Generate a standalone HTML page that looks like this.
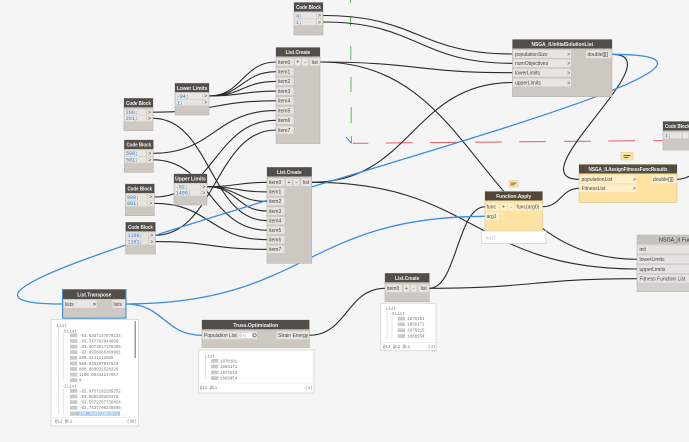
<!DOCTYPE html>
<html><head><meta charset="utf-8"><style>
html,body{margin:0;padding:0;background:#f5f5f5;}
svg{display:block;}
text{font-family:"Liberation Sans",sans-serif;}
.h{font-size:5.6px;fill:#f4f4f4;font-weight:bold;text-anchor:middle;}
.p{font-size:5px;fill:#444;}
.pc{font-size:5px;fill:#444;text-anchor:middle;}
.c{font-size:5px;fill:#2f7fd6;font-family:"Liberation Mono",monospace;}
.m{font-size:4.1px;fill:#777;font-family:"Liberation Mono",monospace;}
.w{fill:none;stroke:#2a2a2a;stroke-width:1.1;}
.b{fill:none;stroke:#3b8de0;stroke-width:1.3;}
.hd{fill:#524f4b;}
.bd{fill:#cdc9c2;stroke:#b6b2ac;stroke-width:0.6;}
.r{fill:#e8e5e1;}
.y{fill:#fde2a1;stroke:#dcc38c;stroke-width:0.6;}
.yr{fill:#fff0cc;}
.pv{fill:#fff;stroke:#d6d6d6;stroke-width:0.8;}
.ib{fill:#c9c9c9;}
</style></head><body>
<svg width="689" height="442" viewBox="0 0 689 442" xmlns="http://www.w3.org/2000/svg">
<rect x="0" y="0" width="689" height="442" fill="#f5f5f5"/>

<!-- axes -->
<g stroke="#5cb85c" stroke-width="1">
<line x1="350.5" y1="0" x2="350.5" y2="2.7"/>
<line x1="350.6" y1="16" x2="350.6" y2="26"/>
<line x1="350.8" y1="46" x2="350.8" y2="60"/>
<line x1="351" y1="77" x2="351" y2="92"/>
<line x1="351.2" y1="107" x2="351.2" y2="123"/>
<line x1="351.4" y1="136" x2="351.4" y2="143.3"/>
</g>
<g stroke="#ec5b5b" stroke-width="1">
<line x1="352.7" y1="143.3" x2="368.3" y2="143.2"/>
<line x1="386" y1="143" x2="412.7" y2="142.8"/>
<line x1="430" y1="142.6" x2="456.7" y2="142.4"/>
<line x1="475" y1="142.2" x2="501.7" y2="142"/>
<line x1="519.3" y1="141.8" x2="546" y2="141.6"/>
<line x1="564" y1="141.4" x2="590.7" y2="141.2"/>
<line x1="608.3" y1="141" x2="635" y2="140.8"/>
<line x1="653.3" y1="140.7" x2="663" y2="140.6"/>
</g>
<line x1="346" y1="137" x2="351.5" y2="143.3" stroke="#3a6fd8" stroke-width="0.8"/>

<!-- black wires -->
<path class="w" d="M323 15.5 C418 15.5 418 54 512.7 54"/>
<path class="w" d="M323 22 C418 22 418 63.3 512.7 63.3"/>
<path class="w" d="M320 62 C416 62 416 72.7 512.7 72.7"/>
<path class="w" d="M320 62 C480 62 477 259.3 637.3 259.3"/>
<path class="w" d="M311.7 182.3 C412 182.3 412 82.5 512.7 82.5"/>
<path class="w" d="M311.7 182.3 C475 182.3 474 269 637.3 269"/>
<path class="w" d="M611.7 54.3 C677 54.3 514 179.3 579.3 179.3"/>
<path class="w" d="M542.7 206.7 C561 206.7 561 188.3 579.3 188.3"/>
<path class="w" d="M429.3 288.3 C457 288.3 457 206.7 485.3 206.7"/>
<path class="w" d="M429.3 288.3 C533 288.3 533 278.7 637.3 278.7"/>
<path class="w" d="M309.3 335.3 C347 335.3 347 288.3 385 288.3"/>
<path class="w" d="M677 179.3 C690 179.3 695 170 720 165"/>

<path class="w" d="M209 96 C242 96 243 62 276 62"/>
<path class="w" d="M209 96 C242 96 243 71.7 276 71.7"/>
<path class="w" d="M209 96 C242 96 243 81.4 276 81.4"/>
<path class="w" d="M209 96 C242 96 243 91.1 276 91.1"/>
<path class="w" d="M153 112.2 C214 112.2 215 100.8 276 100.8"/>
<path class="w" d="M153 118.3 C210 118.3 210 220.6 267 220.6"/>
<path class="w" d="M153 153.3 C214 153.3 215 110.6 276 110.6"/>
<path class="w" d="M153 159.8 C210 159.8 210 230.2 267 230.2"/>
<path class="w" d="M154 197 C215 197 215 120.3 276 120.3"/>
<path class="w" d="M154 203.3 C210 203.3 210 239.7 267 239.7"/>
<path class="w" d="M155 235.3 C215 235.3 216 130 276 130"/>
<path class="w" d="M155 241.6 C211 241.6 211 249.3 267 249.3"/>
<path class="w" d="M207 186.7 C237 186.7 237 182.3 267 182.3"/>
<path class="w" d="M207 186.7 C237 186.7 237 191.9 267 191.9"/>
<path class="w" d="M207 186.7 C237 186.7 237 201.4 267 201.4"/>
<path class="w" d="M207 186.7 C237 186.7 237 211 267 211"/>

<!-- blue wires -->
<path class="b" d="M611.7 54.3 C892 54.3 -217 304 63.3 304"/>
<path class="b" d="M125.7 304 C305.7 304 305.3 216.3 485.3 216.3"/>
<path class="b" d="M125.7 304 C164 304 164 335.3 202.3 335.3"/>

<!-- Code Block top -->
<rect x="294" y="2.5" width="29" height="32.5" class="bd"/>
<rect x="294" y="2.5" width="29" height="9" class="hd"/>
<text x="308.5" y="9.2" class="h" textLength="24.7" lengthAdjust="spacingAndGlyphs">Code Block</text>
<rect x="294.5" y="12.5" width="21.5" height="6" class="r"/><text x="296" y="17.3" class="c">4;</text>
<rect x="316.7" y="12.5" width="5.8" height="6" class="r"/><text x="318" y="17.2" class="p">&gt;</text>
<rect x="294.5" y="19.2" width="21.5" height="6" class="r"/><text x="296" y="24" class="c">1;</text>
<rect x="316.7" y="19.2" width="5.8" height="6" class="r"/><text x="318" y="23.9" class="p">&gt;</text>

<!-- List.Create top -->
<rect x="276" y="47.5" width="44" height="96" class="bd"/>
<rect x="276" y="47.5" width="44" height="9" class="hd"/>
<text x="298" y="54.2" class="h" textLength="24.7" lengthAdjust="spacingAndGlyphs">List.Create</text>
<g>
<rect x="276.5" y="58.3" width="17" height="7.4" class="r"/><text x="278" y="63.8" class="p">item0</text>
<rect x="276.5" y="68" width="17" height="7.4" class="r"/><text x="278" y="73.5" class="p">item1</text>
<rect x="276.5" y="77.7" width="17" height="7.4" class="r"/><text x="278" y="83.2" class="p">item2</text>
<rect x="276.5" y="87.4" width="17" height="7.4" class="r"/><text x="278" y="92.9" class="p">item3</text>
<rect x="276.5" y="97.1" width="17" height="7.4" class="r"/><text x="278" y="102.6" class="p">item4</text>
<rect x="276.5" y="106.9" width="17" height="7.4" class="r"/><text x="278" y="112.4" class="p">item5</text>
<rect x="276.5" y="116.6" width="17" height="7.4" class="r"/><text x="278" y="122.1" class="p">item6</text>
<rect x="276.5" y="126.3" width="17" height="7.4" class="r"/><text x="278" y="131.8" class="p">item7</text>
<rect x="294.8" y="58.3" width="6" height="7.4" class="r"/><text x="297.8" y="63.6" class="pc">+</text>
<rect x="302" y="58.3" width="6.3" height="7.4" class="r"/><text x="305.1" y="63.6" class="pc">-</text>
<rect x="309.7" y="58.3" width="10" height="7.4" class="r"/><text x="314.7" y="63.8" class="pc">list</text>
</g>

<!-- List.Create middle -->
<rect x="267" y="167.3" width="44.7" height="96" class="bd"/>
<rect x="267" y="167.3" width="44.7" height="9.2" class="hd"/>
<text x="289.3" y="174.1" class="h" textLength="24.7" lengthAdjust="spacingAndGlyphs">List.Create</text>
<rect x="267.5" y="178.6" width="17" height="7.4" class="r"/><text x="269" y="184.1" class="p">item0</text>
<rect x="267.5" y="188.2" width="17" height="7.4" class="r"/><text x="269" y="193.7" class="p">item1</text>
<rect x="267.5" y="197.7" width="17" height="7.4" class="r"/><text x="269" y="203.2" class="p">item2</text>
<rect x="267.5" y="207.3" width="17" height="7.4" class="r"/><text x="269" y="212.8" class="p">item3</text>
<rect x="267.5" y="216.9" width="17" height="7.4" class="r"/><text x="269" y="222.4" class="p">item4</text>
<rect x="267.5" y="226.5" width="17" height="7.4" class="r"/><text x="269" y="232" class="p">item5</text>
<rect x="267.5" y="236" width="17" height="7.4" class="r"/><text x="269" y="241.5" class="p">item6</text>
<rect x="267.5" y="245.6" width="17" height="7.4" class="r"/><text x="269" y="251.1" class="p">item7</text>
<rect x="286" y="178.6" width="6" height="7.4" class="r"/><text x="289" y="183.9" class="pc">+</text>
<rect x="293.3" y="178.6" width="6.3" height="7.4" class="r"/><text x="296.4" y="183.9" class="pc">-</text>
<rect x="301.2" y="178.6" width="10" height="7.4" class="r"/><text x="306.2" y="184.1" class="pc">list</text>

<!-- NSGA_II.InitialSolutionList -->
<rect x="512.5" y="39.5" width="99.5" height="57.2" class="bd"/>
<rect x="512.5" y="39.5" width="99.5" height="9" class="hd"/>
<text x="562.3" y="46.2" class="h" textLength="61.6" lengthAdjust="spacingAndGlyphs">NSGA_II.InitialSolutionList</text>
<rect x="513" y="50.1" width="58" height="7.8" class="r"/><text x="515" y="55.8" class="p">populationSize</text><text x="567.3" y="55.8" class="p">&gt;</text>
<rect x="513" y="59.4" width="58" height="7.8" class="r"/><text x="515" y="65.1" class="p">numObjectives</text><text x="567.3" y="65.1" class="p">&gt;</text>
<rect x="513" y="68.8" width="58" height="7.8" class="r"/><text x="515" y="74.5" class="p">lowerLimits</text><text x="567.3" y="74.5" class="p">&gt;</text>
<rect x="513" y="78.6" width="58" height="7.8" class="r"/><text x="515" y="84.3" class="p">upperLimits</text><text x="567.3" y="84.3" class="p">&gt;</text>
<rect x="586" y="50.4" width="25.5" height="7.8" class="r"/><text x="587.5" y="56.1" class="p">double[][]</text>

<!-- Code Block right -->
<rect x="663" y="121.5" width="30" height="28.5" class="bd"/>
<rect x="663" y="121.5" width="30" height="9" class="hd"/>
<text x="665" y="128.2" class="h" style="text-anchor:start" textLength="24.7" lengthAdjust="spacingAndGlyphs">Code Block</text>
<rect x="663.5" y="132.4" width="18" height="6" class="r"/><text x="665" y="137.2" class="c">1;</text>
<rect x="682.5" y="132.4" width="6" height="6" class="r"/>

<!-- AssignFitnessFuncResults -->
<rect x="621" y="152.5" width="12" height="7.5" fill="#fde39c" stroke="#e2c57c" stroke-width="0.5"/>
<rect x="623.5" y="155" width="7" height="1" fill="#555"/><rect x="623.5" y="157" width="5" height="0.9" fill="#555"/>
<rect x="579" y="164.5" width="98" height="38" class="y"/>
<rect x="579" y="164.5" width="98" height="9" fill="#524c43"/>
<text x="628" y="171.2" class="h" textLength="79" lengthAdjust="spacingAndGlyphs">NSGA_II.AssignFitnessFuncResults</text>
<rect x="579.5" y="175.4" width="57" height="7.8" class="yr"/><text x="581.5" y="181.1" class="p">populationList</text><text x="633" y="181.1" class="p">&gt;</text>
<rect x="579.5" y="184.4" width="57" height="7.8" class="yr"/><text x="581.5" y="190.1" class="p">FitnessList</text><text x="633" y="190.1" class="p">&gt;</text>
<rect x="651.5" y="175.4" width="25" height="7.8" class="yr"/><text x="653" y="181.1" class="p">double[][]</text>

<!-- Function.Apply -->
<rect x="509" y="180.5" width="9" height="6.5" fill="#fde39c" stroke="#e2c57c" stroke-width="0.5"/>
<rect x="510.7" y="182.6" width="5.5" height="0.9" fill="#555"/><rect x="510.7" y="184.4" width="4" height="0.8" fill="#555"/>
<rect x="485" y="191.5" width="57.5" height="39.5" class="y"/>
<rect x="485" y="191.5" width="57.5" height="9" fill="#4f4638"/>
<text x="513.7" y="198.2" class="h" textLength="35" lengthAdjust="spacingAndGlyphs">Function.Apply</text>
<rect x="485.5" y="202.8" width="13.5" height="7.8" class="yr"/><text x="486.5" y="208.5" class="p">func</text>
<rect x="500.5" y="202.8" width="6.3" height="7.8" class="yr"/><text x="503.6" y="208.3" class="pc">+</text>
<rect x="507.8" y="202.8" width="6.3" height="7.8" class="yr"/><text x="511" y="208.3" class="pc">-</text>
<rect x="515.5" y="202.8" width="26.6" height="7.8" class="yr"/><text x="516.5" y="208.5" class="p">func(arg0)</text>
<rect x="485.5" y="212.4" width="13.5" height="7.8" class="yr"/><text x="486.5" y="218.1" class="p">arg1</text>
<rect x="481.5" y="231" width="64.5" height="12.5" class="pv"/>
<text x="486" y="239.5" class="m" style="fill:#aaa">null</text>

<!-- NSGA_II Func -->
<rect x="637" y="235" width="60" height="56.7" fill="#d3d0cb" stroke="#bcb8b2" stroke-width="0.6"/>
<rect x="637" y="235" width="60" height="9" fill="#c6c3bd"/>
<text x="659" y="241.6" style="font-size:5.4px;fill:#333">NSGA_II Func</text>
<rect x="637.5" y="245.4" width="55" height="7.8" fill="#e6e4e0"/><text x="639.5" y="251.1" class="p">init</text>
<rect x="637.5" y="255.4" width="55" height="7.8" fill="#e6e4e0"/><text x="639.5" y="261.1" class="p">lowerLimits</text>
<rect x="637.5" y="265.1" width="55" height="7.8" fill="#e6e4e0"/><text x="639.5" y="270.8" class="p">upperLimits</text>
<rect x="637.5" y="274.8" width="55" height="7.8" fill="#e6e4e0"/><text x="639.5" y="280.5" class="p">Fitness Function List</text>

<!-- Left code blocks -->
<!-- CB1 -->
<rect x="124" y="98.3" width="29" height="32.4" class="bd"/>
<rect x="124" y="98.3" width="29" height="9" class="hd"/>
<text x="138.5" y="105" class="h" textLength="24.7" lengthAdjust="spacingAndGlyphs">Code Block</text>
<rect x="124.5" y="109.2" width="21.5" height="6" class="r"/><text x="125.8" y="114" class="c">200;</text>
<rect x="146.7" y="109.2" width="5.8" height="6" class="r"/><text x="148" y="113.9" class="p">&gt;</text>
<rect x="124.5" y="115.4" width="21.5" height="6" class="r"/><text x="125.8" y="120.2" class="c">201;</text>
<rect x="146.7" y="115.4" width="5.8" height="6" class="r"/><text x="148" y="120.1" class="p">&gt;</text>

<!-- Lower Limits -->
<rect x="175" y="83.3" width="34" height="31.7" class="bd"/>
<rect x="175" y="83.3" width="34" height="8.8" class="hd"/>
<text x="192" y="89.9" class="h" textLength="30.7" lengthAdjust="spacingAndGlyphs">Lower Limits</text>
<rect x="175.5" y="93" width="27" height="6" class="r"/><text x="176.8" y="97.8" class="c">-94;</text>
<rect x="203" y="93" width="5.6" height="6" class="r"/><text x="204.2" y="97.7" class="p">&gt;</text>
<rect x="175.5" y="99.5" width="27" height="6" class="r"/><text x="176.8" y="104.3" class="c">1;</text>
<rect x="203" y="99.5" width="5.6" height="6" class="r"/><text x="204.2" y="104.2" class="p">&gt;</text>

<!-- CB2 -->
<rect x="124.3" y="140" width="29" height="32.3" class="bd"/>
<rect x="124.3" y="140" width="29" height="9" class="hd"/>
<text x="138.8" y="146.7" class="h" textLength="24.7" lengthAdjust="spacingAndGlyphs">Code Block</text>
<rect x="124.8" y="150.3" width="21.5" height="6" class="r"/><text x="126.1" y="155.1" class="c">500;</text>
<rect x="147" y="150.3" width="5.8" height="6" class="r"/><text x="148.3" y="155" class="p">&gt;</text>
<rect x="124.8" y="156.8" width="21.5" height="6" class="r"/><text x="126.1" y="161.6" class="c">501;</text>
<rect x="147" y="156.8" width="5.8" height="6" class="r"/><text x="148.3" y="161.5" class="p">&gt;</text>

<!-- Upper Limits -->
<rect x="174" y="174" width="33" height="31" class="bd"/>
<rect x="174" y="174" width="33" height="9" class="hd"/>
<text x="190.5" y="180.7" class="h" textLength="30.7" lengthAdjust="spacingAndGlyphs">Upper Limits</text>
<rect x="174.5" y="183.7" width="26" height="6" class="r"/><text x="175.8" y="188.5" class="c">-92;</text>
<rect x="201" y="183.7" width="5.6" height="6" class="r"/><text x="202.2" y="188.4" class="p">&gt;</text>
<rect x="174.5" y="189.8" width="26" height="6" class="r"/><text x="175.8" y="194.6" class="c">1400;</text>
<rect x="201" y="189.8" width="5.6" height="6" class="r"/><text x="202.2" y="194.5" class="p">&gt;</text>

<!-- CB3 -->
<rect x="125.3" y="184" width="29" height="31.7" class="bd"/>
<rect x="125.3" y="184" width="29" height="9" class="hd"/>
<text x="139.8" y="190.7" class="h" textLength="24.7" lengthAdjust="spacingAndGlyphs">Code Block</text>
<rect x="125.8" y="194" width="21.5" height="6" class="r"/><text x="127.1" y="198.8" class="c">800;</text>
<rect x="148" y="194" width="5.8" height="6" class="r"/><text x="149.3" y="198.7" class="p">&gt;</text>
<rect x="125.8" y="200.3" width="21.5" height="6" class="r"/><text x="127.1" y="205.1" class="c">801;</text>
<rect x="148" y="200.3" width="5.8" height="6" class="r"/><text x="149.3" y="205" class="p">&gt;</text>

<!-- CB4 -->
<rect x="125.7" y="222.3" width="29.7" height="31.7" class="bd"/>
<rect x="125.7" y="222.3" width="29.7" height="9" class="hd"/>
<text x="140.5" y="229" class="h" textLength="24.7" lengthAdjust="spacingAndGlyphs">Code Block</text>
<rect x="126.2" y="232.3" width="22" height="6" class="r"/><text x="127.5" y="237.1" class="c">1100;</text>
<rect x="149" y="232.3" width="5.8" height="6" class="r"/><text x="150.3" y="237" class="p">&gt;</text>
<rect x="126.2" y="238.6" width="22" height="6" class="r"/><text x="127.5" y="243.4" class="c">1101;</text>
<rect x="149" y="238.6" width="5.8" height="6" class="r"/><text x="150.3" y="243.3" class="p">&gt;</text>

<!-- List.Transpose -->
<rect x="63" y="290" width="62.5" height="27.7" class="bd"/>
<rect x="63" y="290" width="62.5" height="9" class="hd"/>
<text x="94.3" y="296.7" class="h" textLength="34" lengthAdjust="spacingAndGlyphs">List.Transpose</text>
<rect x="63.5" y="300.1" width="33" height="7.8" class="r"/><text x="65" y="305.8" class="p">lists</text><text x="93" y="305.8" class="p" style="font-weight:bold">&gt;</text>
<rect x="112.5" y="300.1" width="12.6" height="7.8" class="r"/><text x="113.5" y="305.8" class="p">lists</text>
<rect x="62.5" y="289.5" width="63.5" height="28.7" fill="none" stroke="#3a8ee6" stroke-width="1"/>
<rect x="51" y="319.5" width="87.5" height="106.5" class="pv"/>
<rect x="134.5" y="321" width="1.5" height="37" fill="#9a9a9a"/>
<line x1="58.5" y1="328" x2="58.5" y2="415" stroke="#ccc" stroke-width="0.5"/>
<line x1="63.5" y1="333" x2="63.5" y2="381" stroke="#ccc" stroke-width="0.5"/>
<line x1="63.5" y1="388" x2="63.5" y2="415" stroke="#ccc" stroke-width="0.5"/>
<text x="57" y="327.2" class="m">List</text>
<text x="62" y="332.3" class="m" style="fill:#5a8fd0">⁃0</text><text x="67" y="332.3" class="m">List</text>
<g>
<rect x="70" y="333.5" width="7.3" height="3.8" class="ib"/><text x="79" y="336.8" class="m">-93.6387167679234</text>
<rect x="70" y="339.1" width="7.3" height="3.8" class="ib"/><text x="79" y="342.4" class="m">-93.347782844696</text>
<rect x="70" y="344.7" width="7.3" height="3.8" class="ib"/><text x="79" y="348" class="m">-93.9673617178398</text>
<rect x="70" y="350.3" width="7.3" height="3.8" class="ib"/><text x="79" y="353.6" class="m">-92.8928366369961</text>
<rect x="70" y="355.9" width="7.3" height="3.8" class="ib"/><text x="79" y="359.2" class="m">200.4141112885</text>
<rect x="70" y="361.5" width="7.3" height="3.8" class="ib"/><text x="79" y="364.8" class="m">500.639197037829</text>
<rect x="70" y="367.1" width="7.3" height="3.8" class="ib"/><text x="79" y="370.4" class="m">800.089931528326</text>
<rect x="70" y="372.7" width="7.3" height="3.8" class="ib"/><text x="79" y="376" class="m">1100.00344237057</text>
<rect x="70" y="378.3" width="7.3" height="3.8" class="ib"/><text x="79" y="381.6" class="m">0</text>
</g>
<text x="62" y="387.3" class="m" style="fill:#5a8fd0">⁃1</text><text x="67" y="387.3" class="m">List</text>
<g>
<rect x="70" y="389" width="7.3" height="3.8" class="ib"/><text x="79" y="392.3" class="m">-92.9757291285252</text>
<rect x="70" y="394.6" width="7.3" height="3.8" class="ib"/><text x="79" y="397.9" class="m">-93.988630265478</text>
<rect x="70" y="400.2" width="7.3" height="3.8" class="ib"/><text x="79" y="403.5" class="m">-93.5572757738454</text>
<rect x="70" y="405.8" width="7.3" height="3.8" class="ib"/><text x="79" y="409.1" class="m">-92.7437700345698</text>
<rect x="70" y="411.5" width="50" height="4.2" fill="#9cc7f2"/>
<rect x="70" y="411.7" width="7.3" height="3.8" class="ib"/><text x="79" y="415" class="m" style="fill:#fff">200.366673097071</text>
</g>
<line x1="51" y1="417.5" x2="138.5" y2="417.5" stroke="#e2e2e2" stroke-width="0.6"/>
<text x="55" y="422.5" class="m">@L2 @L1</text>
<text x="127" y="422.5" class="m">(38)</text>

<!-- Truss.Optimization -->
<rect x="202" y="320" width="107.3" height="27.5" class="bd"/>
<rect x="202" y="320" width="107.3" height="9.3" class="hd"/>
<text x="255.7" y="326.9" class="h" textLength="45" lengthAdjust="spacingAndGlyphs">Truss.Optimization</text>
<rect x="202.5" y="331.4" width="54.5" height="7.8" class="r"/><text x="204" y="337.1" class="p">Population List</text>
<rect x="240.3" y="332.3" width="12" height="6" fill="#fff" stroke="#bbb" stroke-width="0.4"/>
<text x="241" y="336.6" class="m" style="font-size:3px">[0] ...</text>
<circle cx="254.6" cy="335.3" r="1.6" fill="none" stroke="#555" stroke-width="0.6"/>
<rect x="276.5" y="331.4" width="32.3" height="7.8" class="r"/><text x="278" y="337.1" class="p">Strain Energy</text>
<rect x="198.7" y="350" width="115.3" height="43" class="pv"/>
<line x1="205.5" y1="358" x2="205.5" y2="380" stroke="#ccc" stroke-width="0.5"/>
<text x="205" y="357.5" class="m">List</text>
<rect x="211" y="359" width="7.3" height="3.8" class="ib"/><text x="220" y="362.3" class="m">1870181</text>
<rect x="211" y="364.6" width="7.3" height="3.8" class="ib"/><text x="220" y="367.9" class="m">1868171</text>
<rect x="211" y="370.5" width="7.3" height="3.8" class="ib"/><text x="220" y="373.8" class="m">1875215</text>
<rect x="211" y="376.2" width="7.3" height="3.8" class="ib"/><text x="220" y="379.5" class="m">1868954</text>
<line x1="198.7" y1="383" x2="314" y2="383" stroke="#e2e2e2" stroke-width="0.6"/>
<text x="200" y="389" class="m">@L2 @L1</text>
<text x="305" y="389" class="m">(4)</text>

<!-- List.Create bottom -->
<rect x="385" y="273.3" width="44.3" height="28.4" class="bd"/>
<rect x="385" y="273.3" width="44.3" height="9" class="hd"/>
<text x="407.2" y="280" class="h" textLength="24.3" lengthAdjust="spacingAndGlyphs">List.Create</text>
<rect x="385.5" y="284.4" width="16.5" height="7.8" class="r"/><text x="387" y="290.1" class="p">item0</text>
<rect x="403.5" y="284.4" width="6" height="7.8" class="r"/><text x="406.5" y="289.9" class="pc">+</text>
<rect x="410.7" y="284.4" width="6" height="7.8" class="r"/><text x="413.7" y="289.9" class="pc">-</text>
<rect x="418.5" y="284.4" width="10.5" height="7.8" class="r"/><text x="423.7" y="290.1" class="pc">list</text>
<rect x="380.7" y="303.3" width="55.3" height="47.4" class="pv"/>
<line x1="387" y1="311" x2="387" y2="340" stroke="#ccc" stroke-width="0.5"/>
<line x1="392" y1="315" x2="392" y2="338" stroke="#ccc" stroke-width="0.5"/>
<text x="386" y="310" class="m">List</text>
<text x="390" y="315" class="m" style="fill:#5a8fd0">⁃0</text><text x="395" y="315" class="m">List</text>
<rect x="397.7" y="316.8" width="7.3" height="3.8" class="ib"/><text x="407.3" y="320.1" class="m">1870181</text>
<rect x="397.7" y="322.4" width="7.3" height="3.8" class="ib"/><text x="407.3" y="325.7" class="m">1868171</text>
<rect x="397.7" y="328.4" width="7.3" height="3.8" class="ib"/><text x="407.3" y="331.7" class="m">1875215</text>
<rect x="397.7" y="334.1" width="7.3" height="3.8" class="ib"/><text x="407.3" y="337.4" class="m">1868954</text>
<line x1="380.7" y1="342.5" x2="436" y2="342.5" stroke="#e2e2e2" stroke-width="0.6"/>
<text x="383" y="348" class="m">@L3 @L2 @L1</text>
<text x="428" y="348" class="m">(4)</text>
</svg>
</body></html>
